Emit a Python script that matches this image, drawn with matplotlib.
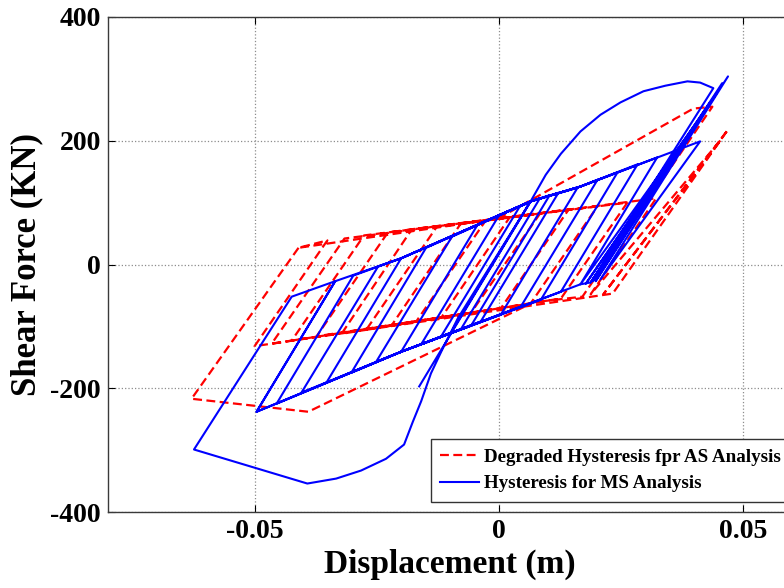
import matplotlib
matplotlib.use("Agg")
import matplotlib.pyplot as plt

plt.rcParams["font.family"] = ["Liberation Serif", "DejaVu Serif"]
plt.rcParams["font.weight"] = "bold"
plt.rcParams["axes.unicode_minus"] = False

# Degraded hysteresis used for the aftershock (AS) analysis: displacement (m), force (kN)
as_disp = [-0.0410, -0.0629, -0.0390, 0.0071, 0.0171, 0.0437, 0.0398, -0.0002, -0.0410, -0.0351,
           -0.0500, 0.0233, 0.0469, 0.0214, 0.0455, 0.0188, 0.0322, -0.0316, -0.0465, 0.0127,
           0.0263, -0.0276, -0.0424, 0.0065, 0.0202, -0.0227, -0.0373, 0.0004, 0.0143, -0.0178,
           -0.0322, -0.0057, 0.0084, -0.0127, -0.0271, -0.0118, 0.0022, -0.0078, -0.0220, -0.0169,
           -0.0027]
as_force = [27, -217, -238, -61, -52, 255, 252, 74, 27, 39,
            -132, -47, 218, -48, 202, -48, 107, 42, -128, -55,
            100, 47, -123, -63, 94, 52, -116, -71, 89, 57,
            -112, -78, 82, 61, -105, -86, 76, 66, -99, -92,
            71]

# Hysteresis of the mainshock (MS) analysis: displacement (m), force (kN)
ms_disp = [-0.0163, 0.0065, 0.0096, 0.0127, 0.0167, 0.0208, 0.0249, 0.0296, 0.0341, 0.0386,
           0.0412, 0.0439, 0.0188, 0.0167, -0.0200, -0.0496, -0.0335, -0.0424, -0.0624, -0.0392,
           -0.0333, -0.0282, -0.0231, -0.0194, -0.0176, -0.0159, -0.0139, -0.0118, -0.0084, 0.0065,
           0.0167, 0.0412, 0.0208, 0.0469, 0.0198, 0.0457, 0.0192, 0.0445, 0.0188, 0.0433,
           0.0178, 0.0418, 0.0167, 0.0324, 0.0167, 0.0065, -0.0200, -0.0335, -0.0496, -0.0200,
           0.0127, 0.0284, 0.0167, 0.0065, -0.0200, -0.0298, -0.0455, -0.0200, 0.0086, 0.0243,
           0.0167, 0.0065, -0.0200, -0.0247, -0.0404, -0.0200, 0.0045, 0.0202, 0.0167, 0.0065,
           -0.0200, -0.0353, -0.0200, 0.0004, 0.0161, 0.0065, -0.0149, -0.0302, -0.0200, -0.0037,
           0.0122, 0.0065, -0.0096, -0.0251, -0.0200, -0.0057, 0.0104, 0.0065, -0.0043, -0.0200,
           -0.0078, 0.0084, 0.0065, 0.0000, -0.0159, -0.0098, 0.0063, 0.0043, -0.0118]
ms_force = [-197, 102, 145, 179, 215, 242, 262, 280, 289, 296,
            294, 285, -29, -32, -141, -238, -27, -52, -299, -354,
            -346, -333, -314, -291, -254, -221, -176, -141, -87, 102,
            126, 199, -24, 304, -27, 293, -27, 276, -29, 263,
            -31, 244, -32, 173, 126, 102, 10, -27, -238, -141,
            -44, 162, 126, 102, 10, -18, -225, -141, -57, 149,
            126, 102, 10, -3, -207, -141, -68, 137, 126, 102,
            10, -191, -141, -81, 124, 102, 27, -175, -141, -92,
            116, 102, 45, -157, -141, -99, 112, 102, 65, -141,
            -105, 107, 102, 79, -129, -110, 100, 94, -116]

x_ticks = [-0.05, 0, 0.05]
x_tick_labels = ["-0.05", "0", "0.05"]
y_ticks = [-400, -200, 0, 200, 400]

fig = plt.figure(figsize=(7.84, 5.88), dpi=100)
ax = fig.add_axes([108 / 784, 76 / 588, 684 / 784, 495 / 588])

ax.plot(as_disp, as_force, color="#ff0000", linestyle="--", dashes=(4, 2), lw=1.6,
        label="Degraded Hysteresis fpr AS Analysis")
ax.plot(ms_disp, ms_force, color="#0000ff", lw=1.5, label="Hysteresis for MS Analysis")

ax.set_xlim(-0.08, 0.06)
ax.set_ylim(-400, 400)
ax.set_xticks(x_ticks)
ax.set_xticklabels(x_tick_labels)
ax.set_yticks(y_ticks)
ax.set_axisbelow(True)
ax.grid(True, linestyle=":", color="#8c8c8c", lw=0.9)
ax.tick_params(direction="in", top=True, right=True, length=5, width=0.8,
               labelsize=20, pad=5, colors="#000000")
for sp in ax.spines.values():
    sp.set_color("#3a3a3a")
    sp.set_linewidth(1.0)

ax.set_xlabel("Displacement (m)", fontsize=24, fontweight="bold")
ax.set_ylabel("Shear Force (KN)", fontsize=25, fontweight="bold")
ax.xaxis.set_label_coords(0.5, -0.075)
ax.yaxis.set_label_coords(-0.095, 0.5)

leg = ax.legend(loc="lower right", bbox_to_anchor=(0.998, 0.0202), borderaxespad=0,
                prop={"weight": "bold", "size": 13.7}, handlelength=2.0, borderpad=0.5,
                handletextpad=0.3, fancybox=False, framealpha=1, edgecolor="#333333")
leg.get_frame().set_linewidth(1.0)

fig.savefig("out.png", dpi=100)
